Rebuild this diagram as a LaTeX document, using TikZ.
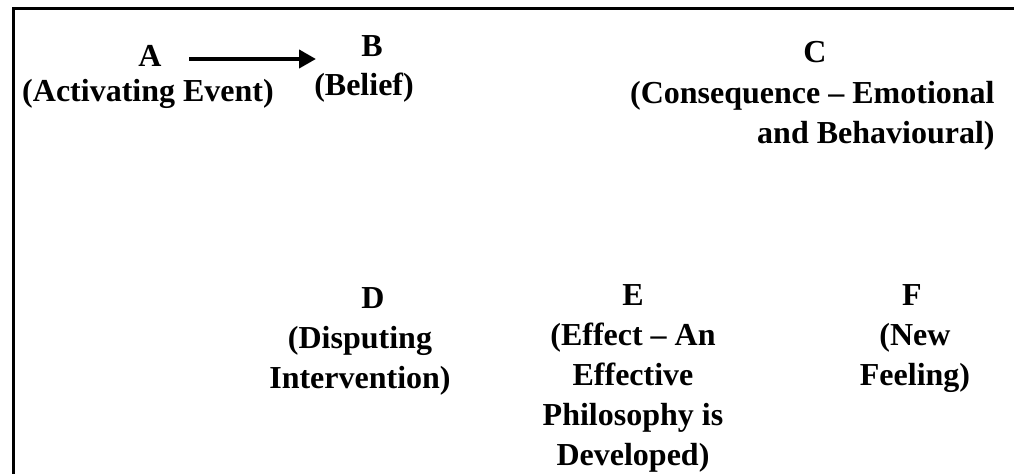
\documentclass[tikz,border=0pt]{standalone}
\usepackage{fontspec}
\setmainfont{Liberation Serif}
\usetikzlibrary{arrows.meta}
\begin{document}
\begin{tikzpicture}[x=0.5pt,y=-0.5pt,
  lbl/.style={inner sep=0pt, anchor=base, align=center,
    font=\fontsize{16}{20}\selectfont\bfseries},
  frame/.style={line width=1.5pt, line cap=rect},
  arr/.style={line width=2pt, -{Triangle[length=8.5pt,width=9pt]}}]
\useasboundingbox (0,0) rectangle (1014,474);
\draw[frame] (13,474) -- (13,9) -- (1014,9);
% A and B
\node[lbl] (A) at (150,67) {A};
\node[lbl] (Ad) at (148,102) {(Activating Event)};
\node[lbl] (B) at (372,57) {B};
\node[lbl] (Bd) at (364,96) {(Belief)};
\coordinate (a1) at (189,59);
\coordinate (b1) at (316,59);
\draw[arr] (a1) -- (b1);
% C
\node[lbl] (C) at (815,63) {C};
\node[lbl, anchor=base east, align=right] (Cd) at (995,144) {(Consequence -- Emotional\\and Behavioural)};
% D
\node[lbl] (D) at (373,309) {D};
\node[lbl] (Dd) at (360,389) {(Disputing\\Intervention)};
% E
\node[lbl] (E) at (633,306) {E};
\node[lbl] (Ed) at (633,466) {(Effect -- An\\Effective\\Philosophy is\\Developed)};
% F
\node[lbl] (F) at (912,306) {F};
\node[lbl] (Fd) at (915,386) {(New\\Feeling)};
\end{tikzpicture}
\end{document}
